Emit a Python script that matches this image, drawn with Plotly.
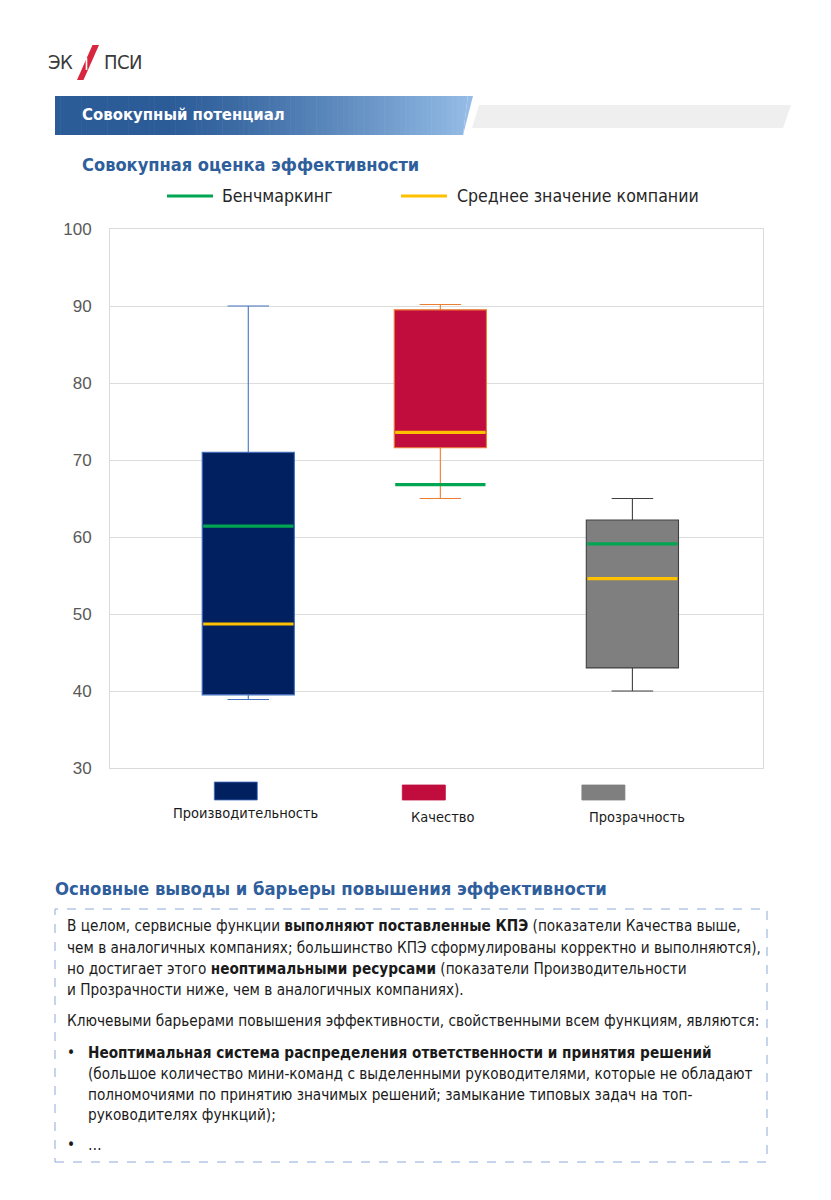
import plotly.graph_objects as go

# ---------------- data ----------------
categories = ["Производительность", "Качество", "Прозрачность"]
whisker_low = [38.9, 65.0, 40.0]
box_q1 = [39.5, 71.6, 43.0]
box_q3 = [71.0, 89.5, 62.2]
whisker_high = [90.0, 90.2, 65.0]
benchmark = [61.4, 66.8, 59.1]
company_mean = [48.7, 73.6, 54.6]

legend_names = ["Бенчмаркинг", "Среднее значение компании"]
y_ticks = [30, 40, 50, 60, 70, 80, 90, 100]

body_lines = [
    "В целом, сервисные функции <b>выполняют поставленные КПЭ</b> (показатели Качества выше,",
    "чем в аналогичных компаниях; большинство КПЭ сформулированы корректно и выполняются),",
    "но достигает этого <b>неоптимальными ресурсами</b> (показатели Производительности",
    "и Прозрачности ниже, чем в аналогичных компаниях).",
    "Ключевыми барьерами повышения эффективности, свойственными всем функциям, являются:",
]
bullet_lines = [
    ["<b>Неоптимальная система распределения ответственности и принятия решений</b>",
     "(большое количество мини-команд с выделенными руководителями, которые не обладают",
     "полномочиями по принятию значимых решений; замыкание типовых задач на топ-",
     "руководителях функций);"],
    ["…"],
]

# ---------------- style ----------------
W, H = 831, 1200
FONT = "Liberation Sans, Arial, sans-serif"
TFONT = "DejaVu Sans Condensed, DejaVu Sans, sans-serif"
box_fill = ["#002060", "#C00D3D", "#7F7F7F"]
box_line = ["#4472C4", "#ED7D31", "#404040"]
GREEN = "#00A651"
YELLOW = "#FFC000"
TITLE_BLUE = "#2F5E9C"
BOX_W = 0.48


def px(x):
    return x / W


def py(y):
    return 1 - y / H


x_idx = list(range(len(categories)))

fig = go.Figure()

for i, cat in enumerate(categories):
    fig.add_trace(go.Box(
        x=[x_idx[i]], q1=[box_q1[i]], median=[company_mean[i]], q3=[box_q3[i]],
        lowerfence=[whisker_low[i]], upperfence=[whisker_high[i]],
        width=BOX_W, whiskerwidth=0.45, boxpoints=False,
        fillcolor=box_fill[i], line=dict(color=box_line[i], width=1.1),
        name=cat, showlegend=False, hoverinfo="skip",
    ))


def seg_xy(vals):
    xs, ys = [], []
    for i, v in enumerate(vals):
        xs += [x_idx[i] - BOX_W / 2 + 0.005, x_idx[i] + BOX_W / 2 - 0.005, None]
        ys += [v, v, None]
    return xs, ys


for vals, col, nm in [(benchmark, GREEN, legend_names[0]), (company_mean, YELLOW, legend_names[1])]:
    xs, ys = seg_xy(vals)
    fig.add_trace(go.Scatter(x=xs, y=ys, mode="lines", line=dict(color=col, width=3.2),
                             name=nm, showlegend=False, hoverinfo="skip"))

shapes = []
annotations = []

# ---- header banner with gradient (strips) ----
c0 = (44, 92, 152)
c1 = (150, 190, 232)
x_start, x_end_bottom, x_end_top = 55, 463, 473
n = 80
for k in range(n):
    xa = x_start + (x_end_top - x_start) * k / n
    xb = x_start + (x_end_top - x_start) * (k + 1) / n
    t = (k + 0.5) / n
    f = max(0.0, (t - 0.25) / 0.75) ** 1.3
    col = "rgb(%d,%d,%d)" % tuple(int(c0[j] + (c1[j] - c0[j]) * f) for j in range(3))
    if xb <= x_end_bottom:
        path = f"M {px(xa)},{py(96)} L {px(xb + 0.6)},{py(96)} L {px(xb + 0.6)},{py(135)} L {px(xa)},{py(135)} Z"
    else:
        xa_b = min(xa, x_end_bottom)
        path = (f"M {px(xa)},{py(96)} L {px(xb)},{py(96)} L {px(x_end_bottom)},{py(135)} "
                f"L {px(xa_b)},{py(135)} Z")
    shapes.append(dict(type="path", path=path, xref="paper", yref="paper",
                       fillcolor=col, line=dict(width=0), layer="below"))

# gray banner
shapes.append(dict(type="path", xref="paper", yref="paper",
                   path=f"M {px(479)},{py(105)} L {px(791)},{py(105)} L {px(783)},{py(128)} L {px(472)},{py(128)} Z",
                   fillcolor="#EFEFEF", line=dict(width=0), layer="below"))

# logo
LOGO_FONT = dict(family="Liberation Sans Narrow, DejaVu Sans Condensed, sans-serif", size=20, color="#3A3A3A")
shapes.append(dict(type="path", xref="paper", yref="paper",
                   path=f"M {px(77)},{py(80)} L {px(83.5)},{py(80)} L {px(99)},{py(45)} L {px(92.5)},{py(45)} Z",
                   fillcolor="#D7263D", line=dict(width=0)))
shapes.append(dict(type="line", xref="paper", yref="paper", x0=px(86.5), x1=px(86.5), y0=py(58), y1=py(70),
                   line=dict(color="white", width=1.6)))
for letter, lx in [("Э", 54.5), ("К", 66.5), ("П", 111), ("С", 123), ("И", 135.5)]:
    annotations.append(dict(x=px(lx), y=py(62), xref="paper", yref="paper", xanchor="center", yanchor="middle",
                            text=letter, showarrow=False, font=LOGO_FONT))

# header text
annotations.append(dict(x=px(80), y=py(115), xref="paper", yref="paper", xanchor="left", yanchor="middle",
                        text="<b>Совокупный потенциал</b>", showarrow=False,
                        font=dict(family=TFONT, size=16.6, color="white")))
# chart title
annotations.append(dict(x=px(80), y=py(164), xref="paper", yref="paper", xanchor="left", yanchor="middle",
                        text="<b>Совокупная оценка эффективности</b>", showarrow=False,
                        font=dict(family=TFONT, size=18.1, color=TITLE_BLUE)))

# custom legend
for (lx0, lx1, tx), col, nm in [((167, 213, 220), GREEN, legend_names[0]), ((401, 447, 455), YELLOW, legend_names[1])]:
    shapes.append(dict(type="line", xref="paper", yref="paper", x0=px(lx0), x1=px(lx1), y0=py(196), y1=py(196),
                       line=dict(color=col, width=3.2)))
    annotations.append(dict(x=px(tx), y=py(196), xref="paper", yref="paper", xanchor="left", yanchor="middle",
                            text=nm, showarrow=False, font=dict(family=TFONT, size=17.6, color="#262626")))

# category swatches + labels under the axis
swatch_offset = [-0.065, -0.086, -0.151]
swatch_top = [782, 785, 785]
label_y = [813, 817, 817]
label_offset = [-0.016, 0.01, 0.026]
for i, cat in enumerate(categories):
    shapes.append(dict(type="rect", xref="x", yref="paper",
                       x0=x_idx[i] + swatch_offset[i] - 0.112, x1=x_idx[i] + swatch_offset[i] + 0.112,
                       y0=py(800), y1=py(swatch_top[i]), fillcolor=box_fill[i],
                       line=dict(color=box_line[i] if i == 0 else box_fill[i], width=0.8)))
    annotations.append(dict(x=x_idx[i] + label_offset[i], y=py(label_y[i]), xref="x", yref="paper",
                            xanchor="center", yanchor="middle", text=cat, showarrow=False,
                            font=dict(family=TFONT, size=14.5, color="#1A1A1A")))

# section title
annotations.append(dict(x=px(53), y=py(888), xref="paper", yref="paper", xanchor="left", yanchor="middle",
                        text="<b>Основные выводы и барьеры повышения эффективности</b>", showarrow=False,
                        font=dict(family=TFONT, size=18.3, color=TITLE_BLUE)))

# dashed text box
shapes.append(dict(type="rect", xref="paper", yref="paper", x0=px(55), x1=px(767), y0=py(1162), y1=py(909),
                   line=dict(color="#8EA9DB", width=1, dash="dash"), fillcolor="rgba(0,0,0,0)"))

BODY_FONT = dict(family=TFONT, size=15.2, color="#1A1A1A")
body_y = [926, 948, 969, 990, 1021]
for txt, yy in zip(body_lines, body_y):
    annotations.append(dict(x=px(65), y=py(yy), xref="paper", yref="paper", xanchor="left", yanchor="middle",
                            text=txt, showarrow=False, font=BODY_FONT))
bullet_y = [[1053, 1074, 1095, 1115], [1145]]
for lines, ys in zip(bullet_lines, bullet_y):
    annotations.append(dict(x=px(65), y=py(ys[0]), xref="paper", yref="paper", xanchor="left", yanchor="middle",
                            text="•", showarrow=False, font=BODY_FONT))
    for txt, yy in zip(lines, ys):
        annotations.append(dict(x=px(86), y=py(yy), xref="paper", yref="paper", xanchor="left", yanchor="middle",
                                text=txt, showarrow=False, font=BODY_FONT))

fig.update_layout(
    width=W, height=H,
    margin=dict(l=0, r=0, t=0, b=0, autoexpand=False),
    paper_bgcolor="white", plot_bgcolor="white",
    showlegend=False,
    shapes=shapes, annotations=annotations,
    xaxis=dict(domain=[px(110), px(763)], range=[-0.72, 2.68], showticklabels=False, showgrid=False,
               zeroline=False, showline=True, mirror=True, linecolor="#DADADA", linewidth=1, ticks="",
               fixedrange=True, automargin=False),
    yaxis=dict(domain=[py(768), py(229)], range=[30, 100], tickvals=y_ticks, showgrid=True,
               gridcolor="#DCDCDC", gridwidth=1, zeroline=False, showline=True, mirror=True,
               linecolor="#DADADA", linewidth=1, ticks="", ticklabelstandoff=14,
               tickfont=dict(family=FONT, size=17, color="#595959"), fixedrange=True, automargin=False),
)

fig.write_html("out.html", config={"displayModeBar": False},
               post_script="document.body.style.margin='0';document.body.style.overflow='hidden';")
